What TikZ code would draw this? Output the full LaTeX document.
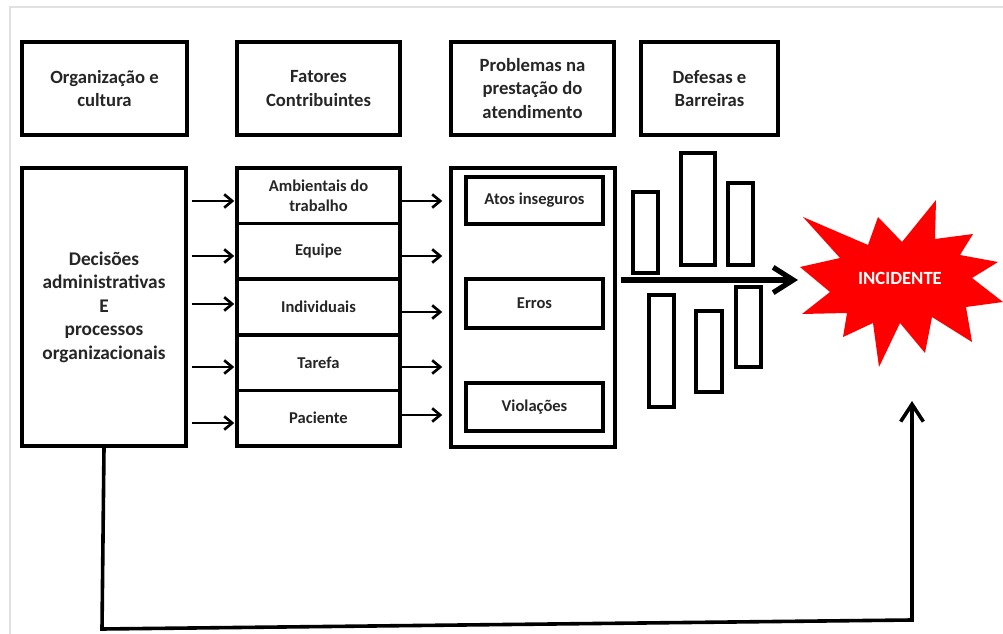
\documentclass[tikz,border=0pt]{standalone}
\usepackage{fontspec}
\setmainfont{Carlito}
\usetikzlibrary{arrows.meta,calc}
\newlength\px \setlength\px{0.75pt}
\definecolor{ink}{RGB}{38,38,38}
\definecolor{framegray}{RGB}{225,225,225}
\definecolor{burst}{RGB}{255,0,0}

\begin{document}
\begin{tikzpicture}[x=0.75pt,y=-0.75pt,
  box/.style={draw=black, line width=2.6pt, fill=white, inner sep=0pt,
    align=center, text=ink},
  hdr/.style={box, font=\fontsize{14}{17.5}\selectfont\bfseries},
  big/.style={box, font=\fontsize{14.5}{17.6}\selectfont\bfseries},
  row/.style={box, font=\fontsize{12.4}{15}\selectfont\bfseries},
  bar/.style={draw=black, line width=2.4pt, fill=white, inner sep=0pt},
  arr/.style={line width=2pt, -{Straight Barb[length=6pt, width=10pt]}},
  bigarr/.style={line width=3.9pt, -{Straight Barb[length=15pt, width=19pt]}},
  backarr/.style={line width=2.7pt, line join=miter, -{Straight Barb[length=13pt, width=17pt]}},
]
\useasboundingbox (0,0) rectangle (1003,634);
\fill[white] (0,0) rectangle (1003,634);
\draw[framegray, line width=1.2pt] (10,634) -- (10,7) -- (1003,7);

% column headers
\node[hdr, minimum width=165*\px, minimum height=93*\px] (h1) at (104.5,88.5) {Organização e\\cultura};
\node[hdr, minimum width=163*\px, minimum height=93*\px] (h2) at (318.5,88.5) {Fatores\\Contribuintes};
\node[hdr, minimum width=163*\px, minimum height=93*\px] (h3) at (532.5,88.5) {Problemas na\\prestação do\\atendimento};
\node[hdr, minimum width=137*\px, minimum height=93*\px] (h4) at (709.5,88.5) {Defesas e\\Barreiras};

% organisational decisions
\node[big, minimum width=164*\px, minimum height=278*\px] (dec) at (104,307)
  {Decisões\\administrativas\\E\\processos\\organizacionais};

% contributing factors
\node[row, minimum width=163*\px, minimum height=55.6*\px] (r1) at (318.5,195.8) {Ambientais do\\trabalho};
\node[row, minimum width=163*\px, minimum height=55.6*\px] (r2) at (318.5,251.4) {Equipe};
\node[row, minimum width=163*\px, minimum height=55.6*\px] (r3) at (318.5,307.0) {Individuais};
\node[row, minimum width=163*\px, minimum height=55.6*\px] (r4) at (318.5,362.6) {Tarefa};
\node[row, minimum width=163*\px, minimum height=55.6*\px] (r5) at (318.5,418.2) {Paciente};

% care delivery problems
\node[box, minimum width=164*\px, minimum height=279*\px] (prob) at (533,307.5) {};
\node[row, minimum width=137*\px, minimum height=47*\px] (p1) at (534.5,200.5) {Atos inseguros};
\node[row, minimum width=137*\px, minimum height=49*\px] (p2) at (534.5,303.5) {Erros};
\node[row, minimum width=137*\px, minimum height=48*\px] (p3) at (534.5,407) {Violações};

% defences and barriers
\node[bar, minimum width=25*\px, minimum height=81*\px]  (b1) at (645.5,232.5) {};
\node[bar, minimum width=34*\px, minimum height=112*\px] (b2) at (698,209) {};
\node[bar, minimum width=25*\px, minimum height=82*\px]  (b3) at (740.5,224) {};
\node[bar, minimum width=25*\px, minimum height=112*\px] (b4) at (661.5,351) {};
\node[bar, minimum width=26*\px, minimum height=81*\px]  (b5) at (709,351.5) {};
\node[bar, minimum width=25*\px, minimum height=80*\px]  (b6) at (748.5,327) {};

% incident burst
\fill[burst] (936,200) -- (935,239) -- (973,234) -- (960,255) -- (998,262)
  -- (972,278) -- (1003,302) -- (966,307) -- (972,342) -- (932,317)
  -- (925,353) -- (900,323) -- (879,367) -- (873,323) -- (843,337)
  -- (847,313) -- (802,314) -- (830,292) -- (800,267) -- (840,258)
  -- (803,217) -- (868,245) -- (878,217) -- (902,242) -- cycle;
\node[text=white, font=\fontsize{14}{16}\selectfont\bfseries, inner sep=0pt] (inc) at (900,278) {INCIDENTE};

% arrows: decisions -> factors
\draw[arr] ($(dec.east |- r1.west)+(4,5.2)$) -- ($(r1.west)+(-1,5.2)$);
\draw[arr] ($(dec.east |- r2.west)+(4,4.6)$) -- ($(r2.west)+(-1,4.6)$);
\draw[arr] ($(dec.east |- r3.west)+(4,-3)$)  -- ($(r3.west)+(-1,-3)$);
\draw[arr] ($(dec.east |- r4.west)+(4,4.4)$) -- ($(r4.west)+(-1,4.4)$);
\draw[arr] ($(dec.east |- r5.west)+(4,4.8)$) -- ($(r5.west)+(-1,4.8)$);

% arrows: factors -> problems
\draw[arr] ($(r1.east)+(-2,5.2)$) -- ($(prob.west |- r1.east)+(-7,5.2)$);
\draw[arr] ($(r2.east)+(-2,4.6)$) -- ($(prob.west |- r2.east)+(-7,4.6)$);
\draw[arr] ($(r3.east)+(-2,5)$)   -- ($(prob.west |- r3.east)+(-7,5)$);
\draw[arr] ($(r4.east)+(-2,4.4)$) -- ($(prob.west |- r4.east)+(-7,4.4)$);
\draw[arr] ($(r5.east)+(-2,-3.2)$) -- ($(prob.west |- r5.east)+(-7,-3.2)$);

% trajectory through the barriers
\coordinate (hit) at (798,280);
\draw[bigarr] ($(prob.east |- hit)+(4,0)$) -- (hit);

% latent conditions path
\coordinate (c1) at (102,629);
\coordinate (c2) at (912,620);
\coordinate (rise) at (912,401);
\draw[backarr] (dec.south) -- (c1) -- (c2) -- (rise);
\end{tikzpicture}
\end{document}
